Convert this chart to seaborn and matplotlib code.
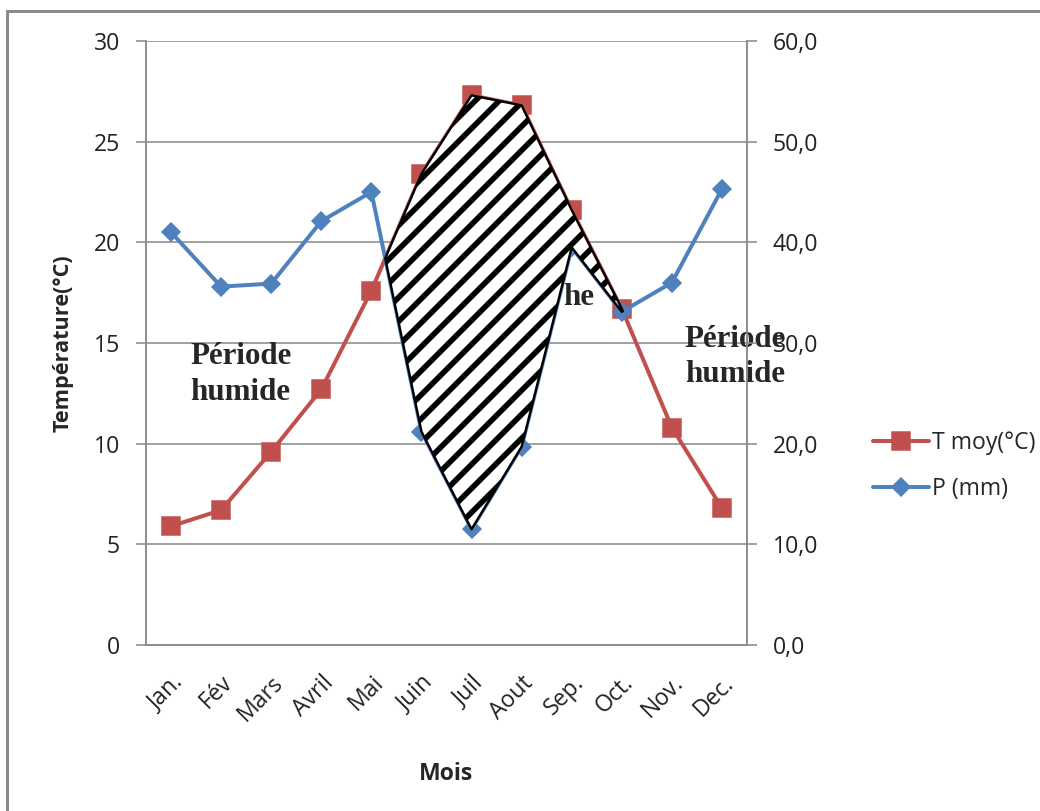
import numpy as np
import matplotlib
matplotlib.use("Agg")
import matplotlib.pyplot as plt
from matplotlib.patches import Rectangle
import seaborn as sns

# ---- data ----
months = ["Jan.", "Fév", "Mars", "Avril", "Mai", "Juin", "Juil", "Aout", "Sep.", "Oct.", "Nov.", "Dec."]
temp = [5.9, 6.7, 9.6, 12.7, 17.6, 23.4, 27.3, 26.8, 21.6, 16.7, 10.8, 6.8]
precip = [41.0, 35.6, 35.9, 42.1, 45.0, 21.2, 11.5, 19.7, 39.5, 33.1, 36.0, 45.3]
temp_ticks = [0, 5, 10, 15, 20, 25, 30]
precip_ticks = [0, 10, 20, 30, 40, 50, 60]

sns.set_theme(style="white")
plt.rcParams["font.family"] = ["Open Sans", "DejaVu Sans"]
plt.rcParams["hatch.linewidth"] = 2.8

RED = "#C0504D"
BLUE = "#4F81BD"
GRID = "#8C8C8C"
DPI = 144

fig = plt.figure(figsize=(1040 / DPI, 811 / DPI), dpi=DPI)
ax = fig.add_axes([146 / 1040, 1 - 645 / 811, (747 - 146) / 1040, (645 - 41) / 811])
ax2 = ax.twinx()

x = np.arange(len(months))
t = np.array(temp)
p = np.array(precip)

sns.lineplot(x=x, y=t, ax=ax, color=RED, marker="s", markersize=9, linewidth=2,
             markeredgecolor=RED, label="T moy(°C)", legend=False, zorder=3)
sns.lineplot(x=x, y=p / 2.0, ax=ax, color=BLUE, marker="D", markersize=6.2, linewidth=2,
             markeredgecolor=BLUE, label="P (mm)", legend=False, zorder=3)

# dry period (P < 2T) hatched
ax.fill_between(x, p / 2.0, t, where=(p / 2.0 < t), interpolate=True,
                facecolor="white", edgecolor="black", hatch="//", linewidth=1.2, zorder=4)

ax.set_xlim(-0.5, len(months) - 0.5)
ax.set_ylim(0, 30)
ax.set_yticks(temp_ticks)
ax.set_yticklabels([str(v) for v in temp_ticks])
ax2.set_ylim(0, 60)
ax2.set_yticks(precip_ticks)
ax2.set_yticklabels([f"{v:.1f}".replace(".", ",") for v in precip_ticks])

ax.set_xticks(x)
ax.set_xticklabels(months, rotation=45, ha="right", rotation_mode="anchor", fontsize=11.5)

ax.grid(axis="y", color=GRID, linewidth=0.8)
ax.set_axisbelow(True)
for a in (ax, ax2):
    a.spines["top"].set_visible(False)
    for s in ("left", "right", "bottom"):
        a.spines[s].set_color(GRID)
        a.spines[s].set_linewidth(0.8)
ax.tick_params(axis="y", which="both", left=True, length=5, width=0.8, color=GRID,
               pad=8, labelsize=11.5, labelcolor="#222222")
ax.tick_params(axis="x", bottom=False, pad=7, labelcolor="#222222")
ax2.tick_params(axis="y", right=True, length=5, width=0.8, color=GRID,
                pad=8, labelsize=11.5, labelcolor="#222222")
ax2.grid(False)

ax.set_ylabel("Température(°C)", fontsize=10.8, fontweight="bold", labelpad=10)
ax.set_xlabel("Mois", fontsize=11.5, fontweight="bold", labelpad=18)

serif = ["Liberation Serif", "DejaVu Serif"]
ax.text(0.38, 13.45, "Période\nhumide", family=serif, fontsize=15.5, fontweight="bold",
        ha="left", va="center", linespacing=1.3, zorder=5)
ax.text(10.26, 14.3, "Période\nhumide", family=serif, fontsize=15.5, fontweight="bold",
        ha="left", va="center", linespacing=1.3, zorder=5, clip_on=False)
ax.text(7.82, 17.25, "he", family=serif, fontsize=15.5, fontweight="bold",
        ha="left", va="center", zorder=2)

handles, labels = ax.get_legend_handles_labels()
fig.legend(handles, labels, loc="center left", bbox_to_anchor=(873 / 1040, 1 - 466 / 811),
           frameon=False, fontsize=11.5, handlelength=2.45, handletextpad=0.1,
           labelspacing=0.95, borderpad=0, borderaxespad=0)

fig.add_artist(Rectangle((7 / 1040, -0.1), 1.2, (1 - 11 / 811) + 0.1,
                         transform=fig.transFigure, fill=False, edgecolor="#8A8A8A",
                         linewidth=1.5))

fig.savefig("out.png", dpi=DPI)
